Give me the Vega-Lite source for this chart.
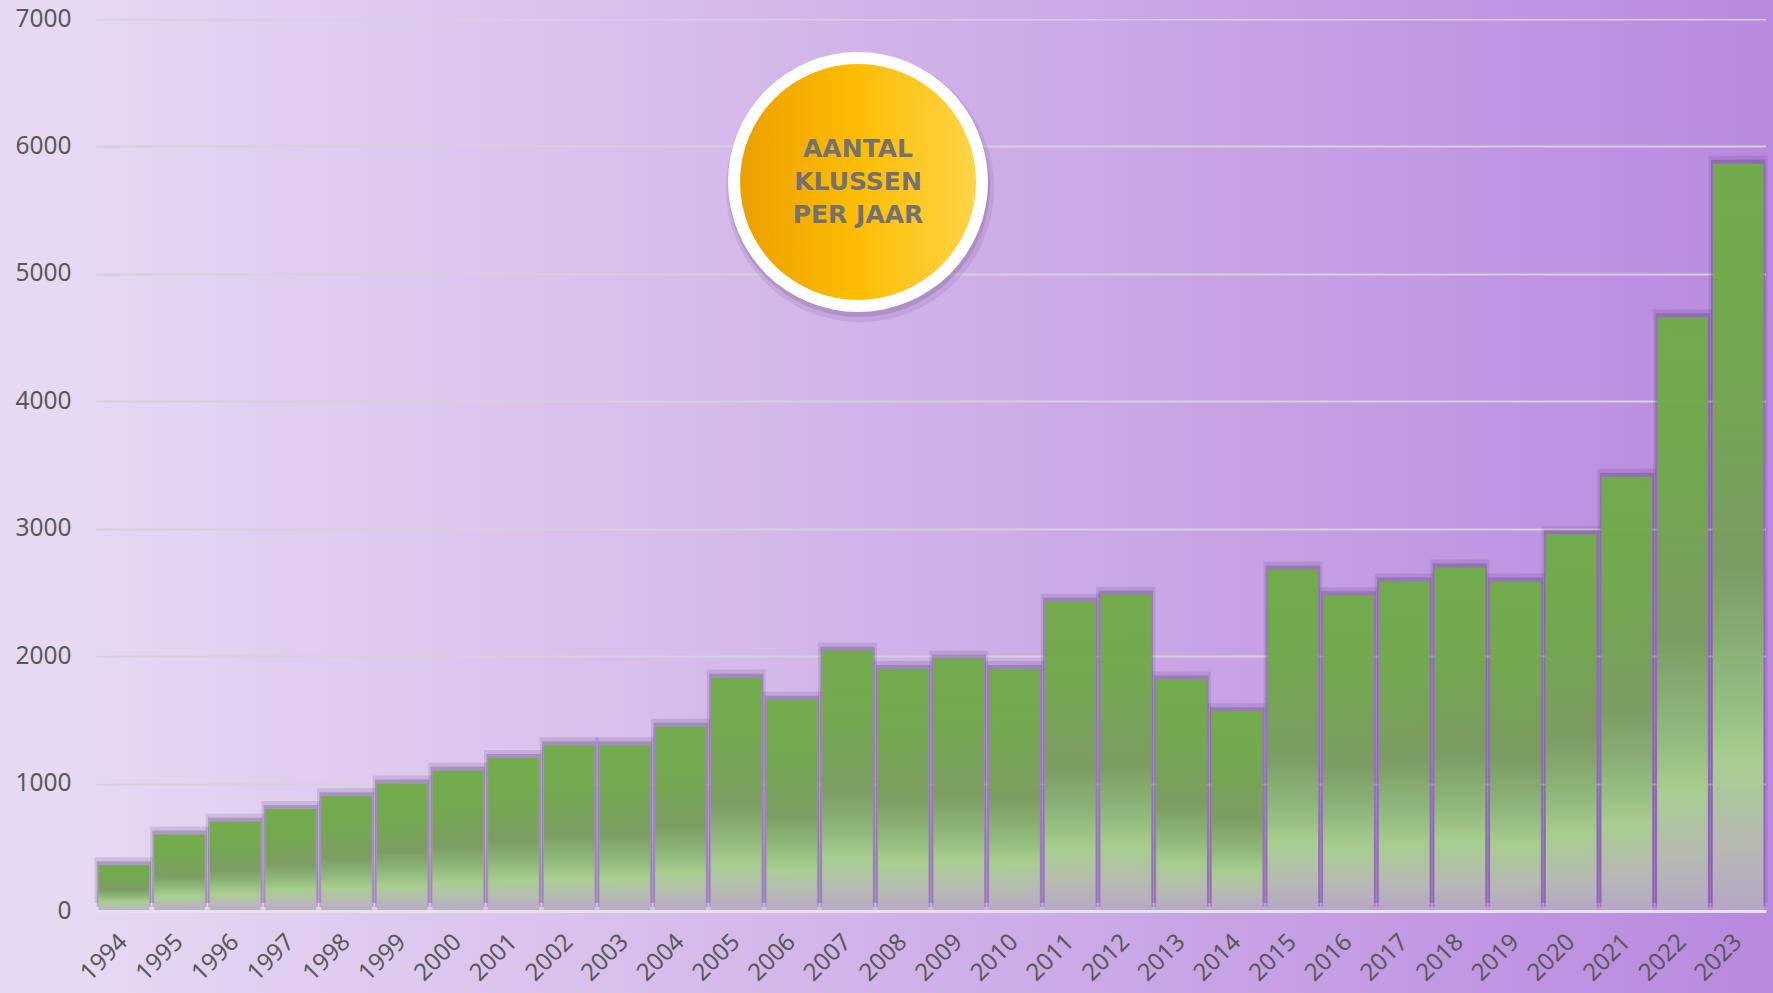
{
  "$schema": "https://vega.github.io/schema/vega-lite/v6.json",
  "width": 1670,
  "height": 892,
  "autosize": {"type": "none"},
  "padding": {"left": 96, "top": 19, "right": 7, "bottom": 82},
  "background": "#E8D9F2",
  "view": {
    "stroke": null,
    "fill": {"gradient": "linear", "x1": 0, "y1": 0, "x2": 1, "y2": 0,
      "stops": [{"offset": 0, "color": "#E6D7F2"}, {"offset": 1, "color": "#B88ADF"}]}
  },
  "config": {"font": "Noto Sans"},
  "datasets": {
    "jobs": [
      {"year": "1994", "count": 360},
      {"year": "1995", "count": 600},
      {"year": "1996", "count": 700},
      {"year": "1997", "count": 800},
      {"year": "1998", "count": 900},
      {"year": "1999", "count": 1000},
      {"year": "2000", "count": 1100},
      {"year": "2001", "count": 1200},
      {"year": "2002", "count": 1300},
      {"year": "2003", "count": 1300},
      {"year": "2004", "count": 1445},
      {"year": "2005", "count": 1830},
      {"year": "2006", "count": 1657},
      {"year": "2007", "count": 2042},
      {"year": "2008", "count": 1900},
      {"year": "2009", "count": 1979},
      {"year": "2010", "count": 1900},
      {"year": "2011", "count": 2427},
      {"year": "2012", "count": 2482},
      {"year": "2013", "count": 1816},
      {"year": "2014", "count": 1567},
      {"year": "2015", "count": 2679},
      {"year": "2016", "count": 2478},
      {"year": "2017", "count": 2585},
      {"year": "2018", "count": 2695},
      {"year": "2019", "count": 2585},
      {"year": "2020", "count": 2956},
      {"year": "2021", "count": 3407},
      {"year": "2022", "count": 4660},
      {"year": "2023", "count": 5864}
    ]
  },
  "layer": [
    {
      "data": {"values": [{}]},
      "layer": [
        {
          "mark": {"type": "rect", "color": {"gradient": "linear", "x1": 0, "y1": 0, "x2": 1, "y2": 0,
            "stops": [{"offset": 0, "color": "#E6D7F2"}, {"offset": 1, "color": "#B889DF"}]}},
          "encoding": {
            "x": {"datum": 0, "type": "quantitative", "scale": {"domain": [0, 1], "nice": false, "zero": false}, "axis": null},
            "x2": {"datum": 1.01},
            "y": {"datum": 7000, "type": "quantitative", "scale": {"domain": [0, 7000], "nice": false}},
            "y2": {"datum": 7400}
          }
        },
        {
          "mark": {"type": "rect", "color": {"gradient": "linear", "x1": 0, "y1": 0, "x2": 1, "y2": 0,
            "stops": [{"offset": 0, "color": "#E6D7F2"}, {"offset": 1, "color": "#B889DF"}]}},
          "encoding": {
            "x": {"datum": 0, "type": "quantitative", "scale": {"domain": [0, 1], "nice": false, "zero": false}, "axis": null},
            "x2": {"datum": 1.01},
            "y": {"datum": 0, "type": "quantitative", "scale": {"domain": [0, 7000], "nice": false}},
            "y2": {"datum": -800}
          }
        },
        {
          "mark": {"type": "rect", "color": "#B889DF"},
          "encoding": {
            "x": {"datum": 1, "type": "quantitative", "scale": {"domain": [0, 1], "nice": false, "zero": false}, "axis": null},
            "x2": {"datum": 1.01},
            "y": {"datum": -800, "type": "quantitative", "scale": {"domain": [0, 7000], "nice": false}},
            "y2": {"datum": 7400}
          }
        }
      ]
    },
    {
      "data": {"name": "jobs"},
      "layer": [
        {
          "mark": {"type": "bar", "color": "#4A2B68", "opacity": 0.14, "width": {"band": 1.16}, "yOffset": -8},
          "encoding": {
            "x": {"field": "year", "type": "ordinal", "scale": {"paddingInner": 0.09, "paddingOuter": 0.045}},
            "y": {"field": "count", "type": "quantitative", "scale": {"domain": [0, 7000], "nice": false}}
          }
        },
        {
          "mark": {"type": "bar", "color": "#4A2B68", "opacity": 0.24, "width": {"band": 1.07}, "yOffset": -4},
          "encoding": {
            "x": {"field": "year", "type": "ordinal", "scale": {"paddingInner": 0.09, "paddingOuter": 0.045}},
            "y": {"field": "count", "type": "quantitative", "scale": {"domain": [0, 7000], "nice": false}}
          }
        },
        {
          "mark": {"type": "bar", "opacity": 0.96,
            "color": {"gradient": "linear", "x1": 0, "y1": 0, "x2": 0, "y2": 1,
              "stops": [
                {"offset": 0, "color": "#70AD47"},
                {"offset": 0.25, "color": "#71AA4B"},
                {"offset": 0.54, "color": "#7A9E5F"},
                {"offset": 0.68, "color": "#8DB877"},
                {"offset": 0.8, "color": "#A8D18D"},
                {"offset": 0.91, "color": "#B7BDB2"},
                {"offset": 1, "color": "#B8A8C6"}
              ]}},
          "encoding": {
            "x": {"field": "year", "type": "ordinal", "scale": {"paddingInner": 0.09, "paddingOuter": 0.045},
              "axis": {"title": null, "labelAngle": -45, "labelFontSize": 24, "labelColor": "#595959", "labelFont": "Noto Sans",
                "ticks": false, "labelPadding": 27, "domain": true, "domainColor": "#E6E1EA", "domainWidth": 3, "zindex": 1}},
            "y": {"field": "count", "type": "quantitative", "scale": {"domain": [0, 7000], "nice": false},
              "axis": {"title": null, "format": "d", "values": [0, 1000, 2000, 3000, 4000, 5000, 6000, 7000], "grid": true, "gridColor": "#D5D0DA", "gridWidth": 2,
                "domain": false, "ticks": false, "labelFontSize": 24.5, "labelColor": "#595959", "labelFont": "Noto Sans", "labelPadding": 25, "zindex": 0}}
          }
        }
      ]
    },
    {
      "data": {"values": [{"label": "AANTAL\nKLUSSEN\nPER JAAR"}]},
      "encoding": {
        "x": {"datum": 0.4563, "type": "quantitative", "scale": {"domain": [0, 1], "nice": false, "zero": false}, "axis": null},
        "y": {"datum": 5721, "type": "quantitative", "scale": {"domain": [0, 7000], "nice": false}}
      },
      "layer": [
        {"mark": {"type": "point", "shape": "circle", "filled": true, "color": "#4A2A66", "opacity": 0.1, "size": 72000, "strokeWidth": 0, "xOffset": 2, "yOffset": 6}},
        {"mark": {"type": "point", "shape": "circle", "filled": true, "color": "#4A2A66", "opacity": 0.16, "size": 68600, "strokeWidth": 0, "xOffset": 1, "yOffset": 4}},
        {"mark": {"type": "point", "shape": "circle", "filled": true, "color": "#FFFFFF", "opacity": 1, "size": 67600, "strokeWidth": 0}},
        {"mark": {"type": "point", "shape": "circle", "filled": true, "opacity": 1, "size": 55696, "strokeWidth": 0,
          "color": {"gradient": "linear", "x1": 0, "y1": 0, "x2": 1, "y2": 0,
            "stops": [{"offset": 0, "color": "#EC9F00"}, {"offset": 0.5, "color": "#FDBD03"}, {"offset": 1, "color": "#FFD448"}]}}},
        {"mark": {"type": "text", "font": "DejaVu Sans", "fontWeight": "bold", "fontSize": 25, "color": "#767171",
          "lineBreak": "\n", "lineHeight": 33, "align": "center", "baseline": "middle", "dy": -33},
          "encoding": {"text": {"field": "label"}}}
      ]
    }
  ],
  "resolve": {"scale": {"x": "independent"}}
}
